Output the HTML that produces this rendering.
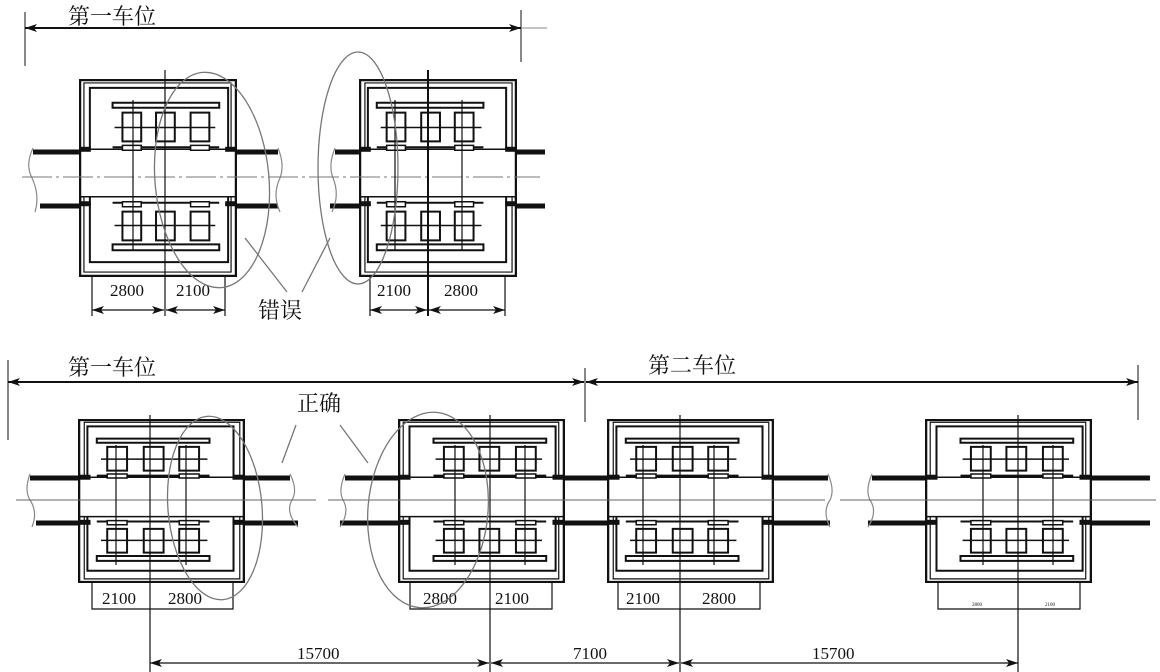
<!DOCTYPE html>
<html><head><meta charset="utf-8"><style>
html,body{margin:0;padding:0;background:#fff;}
svg{display:block}
text{font-family:"Liberation Serif","Noto Serif CJK SC",serif;fill:#111}
.c{font-family:"Liberation Serif","Noto Serif CJK SC","Noto Sans CJK SC",serif;font-size:22px}
</style></head><body>
<svg width="1160" height="672" viewBox="0 0 1160 672" xmlns="http://www.w3.org/2000/svg">
<defs>
<symbol id="m" viewBox="0 0 160 200" preserveAspectRatio="none">
 <g fill="none" stroke="#111">
  <rect x="1" y="1" width="158" height="198" stroke-width="2.5" fill="#fff" vector-effect="non-scaling-stroke"/>
  <rect x="5" y="4" width="149" height="191" stroke-width="1.2" vector-effect="non-scaling-stroke"/>
  <rect x="11" y="9" width="140" height="176" stroke-width="2" vector-effect="non-scaling-stroke"/>
  <rect x="0" y="71" width="160" height="48" fill="#fff" stroke="none"/>
  <line x1="0" y1="71" x2="160" y2="71" stroke-width="1.5" vector-effect="non-scaling-stroke"/>
  <line x1="0" y1="119" x2="160" y2="119" stroke-width="1.5" vector-effect="non-scaling-stroke"/>
  <line x1="0" y1="71" x2="12" y2="71" stroke-width="5" vector-effect="non-scaling-stroke"/>
  <line x1="148" y1="71" x2="160" y2="71" stroke-width="5" vector-effect="non-scaling-stroke"/>
  <line x1="0" y1="126" x2="12" y2="126" stroke-width="5" vector-effect="non-scaling-stroke"/>
  <line x1="148" y1="126" x2="160" y2="126" stroke-width="5" vector-effect="non-scaling-stroke"/>
  <line x1="34" y1="69" x2="142" y2="69" stroke-width="2" vector-effect="non-scaling-stroke"/>
  <line x1="34" y1="125" x2="142" y2="125" stroke-width="2" vector-effect="non-scaling-stroke"/>
  <line x1="1" y1="71" x2="1" y2="126" stroke-width="2.5" vector-effect="non-scaling-stroke"/>
  <line x1="159" y1="71" x2="159" y2="126" stroke-width="2.5" vector-effect="non-scaling-stroke"/>
  <rect x="34" y="24" width="108" height="5" stroke-width="2" vector-effect="non-scaling-stroke"/>
  <rect x="34" y="167" width="108" height="6" stroke-width="2" vector-effect="non-scaling-stroke"/>
  <line x1="36" y1="49" x2="138" y2="49" stroke-width="1.5" vector-effect="non-scaling-stroke"/>
  <line x1="36" y1="148" x2="138" y2="148" stroke-width="1.5" vector-effect="non-scaling-stroke"/>
  <rect x="44" y="34" width="19" height="29" stroke-width="2" vector-effect="non-scaling-stroke"/>
  <rect x="78" y="34" width="19" height="29" stroke-width="2" vector-effect="non-scaling-stroke"/>
  <rect x="113" y="34" width="19" height="29" stroke-width="2" vector-effect="non-scaling-stroke"/>
  <rect x="44" y="134" width="19" height="29" stroke-width="2" vector-effect="non-scaling-stroke"/>
  <rect x="78" y="134" width="19" height="29" stroke-width="2" vector-effect="non-scaling-stroke"/>
  <rect x="113" y="134" width="19" height="29" stroke-width="2" vector-effect="non-scaling-stroke"/>
  <rect x="44" y="67" width="19" height="5" stroke-width="1.5" fill="#fff" vector-effect="non-scaling-stroke"/>
  <rect x="113" y="67" width="19" height="5" stroke-width="1.5" fill="#fff" vector-effect="non-scaling-stroke"/>
  <rect x="44" y="124" width="19" height="5" stroke-width="1.5" fill="#fff" vector-effect="non-scaling-stroke"/>
  <rect x="113" y="124" width="19" height="5" stroke-width="1.5" fill="#fff" vector-effect="non-scaling-stroke"/>
 </g>
</symbol>
<marker id="a" viewBox="0 0 12 8" refX="12" refY="4" markerWidth="12" markerHeight="8" markerUnits="userSpaceOnUse" orient="auto-start-reverse"><path d="M0,0 L12,4 L0,8 L3,4 z" fill="#111"/></marker>
</defs>

<!-- TOP ROW rails -->
<g stroke="#111" fill="none">
 <line x1="33" y1="152" x2="278" y2="152" stroke-width="5"/>
 <line x1="40" y1="206" x2="278" y2="206" stroke-width="5"/>
 <line x1="335" y1="152" x2="545" y2="152" stroke-width="5"/>
 <line x1="330" y1="206" x2="545" y2="206" stroke-width="5"/>
 <path d="M33,148 Q25,165 32,178 Q40,195 35,212" stroke="#888" stroke-width="1.2"/>
 <path d="M278,148 Q285,165 280,178 Q272,195 280,212" stroke="#888" stroke-width="1.2"/>
 <path d="M335,148 Q328,165 333,178 Q340,195 332,212" stroke="#888" stroke-width="1.2"/>
</g>
<use href="#m" x="79" y="79" width="158" height="198"/>
<g transform="translate(517,0) scale(-1,1)"><use href="#m" x="0" y="79" width="158" height="198"/></g>
<line x1="22" y1="177" x2="540" y2="177" stroke-width="1" stroke="#777" stroke-dasharray="30,4,3,4"/>

<!-- top vertical lines -->
<g stroke="#111" stroke-width="1.2">
 <line x1="165" y1="70" x2="165" y2="316"/>
 <line x1="133" y1="100" x2="133" y2="250"/>
 <line x1="92" y1="277" x2="92" y2="316"/>
 <line x1="225" y1="277" x2="225" y2="316"/>
 <line x1="428" y1="70" x2="428" y2="316" stroke-width="2"/>
 <line x1="395" y1="100" x2="395" y2="250"/>
 <line x1="462" y1="100" x2="462" y2="250"/>
 <line x1="370" y1="277" x2="370" y2="316"/>
 <line x1="505" y1="277" x2="505" y2="316"/>
 <line x1="92" y1="310" x2="164" y2="310" marker-start="url(#a)" marker-end="url(#a)"/>
 <line x1="166" y1="310" x2="225" y2="310" marker-start="url(#a)" marker-end="url(#a)"/>
 <line x1="370" y1="310" x2="427" y2="310" marker-start="url(#a)" marker-end="url(#a)"/>
 <line x1="429" y1="310" x2="505" y2="310" marker-start="url(#a)" marker-end="url(#a)"/>
</g>
<g font-size="17"><text x="110" y="296">2800</text><text x="176" y="296">2100</text><text x="377" y="296">2100</text><text x="444" y="296">2800</text></g>

<!-- top dimension -->
<g stroke="#111">
 <line x1="25" y1="12" x2="25" y2="66" stroke-width="1"/>
 <line x1="521" y1="10" x2="521" y2="62" stroke-width="1"/>
 <line x1="521" y1="28" x2="547" y2="28" stroke-width="1" stroke="#888"/>
 <line x1="25" y1="28" x2="521" y2="28" stroke-width="2" marker-start="url(#a)" marker-end="url(#a)"/>
</g>
<text class="c" x="68" y="24">第一车位</text>

<!-- ellipses top -->
<g fill="none" stroke="#777" stroke-width="1.3">
 <ellipse cx="212" cy="180" rx="57" ry="108" transform="rotate(-5 212 180)"/>
 <ellipse cx="358" cy="168" rx="40" ry="116"/>
 <line x1="245" y1="238" x2="287" y2="292"/>
 <line x1="330" y1="238" x2="302" y2="292"/>
</g>
<text class="c" x="258" y="318">错误</text>

<!-- BOTTOM ROW -->
<g stroke="#111" fill="none">
 <line x1="30" y1="478" x2="290" y2="478" stroke-width="5"/>
 <line x1="36" y1="523" x2="298" y2="523" stroke-width="5"/>
 <line x1="345" y1="478" x2="828" y2="478" stroke-width="5"/>
 <line x1="340" y1="523" x2="830" y2="523" stroke-width="5"/>
 <line x1="872" y1="478" x2="1150" y2="478" stroke-width="5"/>
 <line x1="868" y1="523" x2="1150" y2="523" stroke-width="5"/>
 <path d="M30,474 Q24,490 30,500 Q38,512 32,527" stroke="#888" stroke-width="1.2"/>
 <path d="M290,474 Q298,490 292,500 Q285,512 298,527" stroke="#888" stroke-width="1.2"/>
 <path d="M345,474 Q338,490 343,500 Q350,512 340,527" stroke="#888" stroke-width="1.2"/>
 <path d="M828,474 Q835,490 830,500 Q822,512 830,527" stroke="#888" stroke-width="1.2"/>
 <path d="M872,474 Q865,490 870,500 Q878,512 868,527" stroke="#888" stroke-width="1.2"/>
</g>
<g transform="translate(245,0) scale(-1,1)"><use href="#m" x="0" y="419" width="167" height="164"/></g>
<use href="#m" x="398" y="419" width="167" height="164"/>
<g transform="translate(774,0) scale(-1,1)"><use href="#m" x="0" y="419" width="167" height="164"/></g>
<use href="#m" x="925" y="419" width="167" height="164"/>
<g stroke="#666" stroke-width="1">
 <line x1="16" y1="500" x2="316" y2="500"/>
 <line x1="328" y1="500" x2="825" y2="500"/>
 <line x1="840" y1="500" x2="1156" y2="500"/>
</g>

<g stroke="#111" stroke-width="1.2">
 <line x1="150" y1="415" x2="150" y2="672"/>
 <line x1="490" y1="415" x2="490" y2="672"/>
 <line x1="680" y1="415" x2="680" y2="672"/>
 <line x1="1018" y1="415" x2="1018" y2="672"/>
 <line x1="116" y1="445" x2="116" y2="565"/>
 <line x1="186" y1="445" x2="186" y2="565"/>
 <line x1="455" y1="445" x2="455" y2="565"/>
 <line x1="525" y1="445" x2="525" y2="565"/>
 <line x1="643" y1="445" x2="643" y2="565"/>
 <line x1="714" y1="445" x2="714" y2="565"/>
 <line x1="983" y1="445" x2="983" y2="565"/>
 <line x1="1053" y1="445" x2="1053" y2="565"/>
 <path d="M92,583 V609 H233 V583" fill="none"/>
 <path d="M410,583 V609 H552 V583" fill="none"/>
 <path d="M618,583 V609 H760 V583" fill="none"/>
 <path d="M938,583 V609 H1080 V583" fill="none"/>
 <line x1="150" y1="663" x2="489" y2="663" marker-start="url(#a)" marker-end="url(#a)"/>
 <line x1="491" y1="663" x2="679" y2="663" marker-start="url(#a)" marker-end="url(#a)"/>
 <line x1="681" y1="663" x2="1018" y2="663" marker-start="url(#a)" marker-end="url(#a)"/>
</g>
<g font-size="17">
 <text x="102" y="604">2100</text><text x="168" y="604">2800</text>
 <text x="423" y="604">2800</text><text x="495" y="604">2100</text>
 <text x="626" y="604">2100</text><text x="702" y="604">2800</text>
 <text x="297" y="659">15700</text><text x="573" y="659">7100</text><text x="812" y="659">15700</text>
 <text x="972" y="606" font-size="5">2800</text><text x="1045" y="606" font-size="5">2100</text>
</g>

<!-- bottom dimension -->
<g stroke="#111">
 <line x1="8" y1="360" x2="8" y2="440" stroke-width="1"/>
 <line x1="585" y1="368" x2="585" y2="422" stroke-width="1"/>
 <line x1="1138" y1="365" x2="1138" y2="420" stroke-width="1"/>
 <line x1="8" y1="382" x2="584" y2="382" stroke-width="2" marker-start="url(#a)" marker-end="url(#a)"/>
 <line x1="586" y1="382" x2="1138" y2="382" stroke-width="2" marker-start="url(#a)" marker-end="url(#a)"/>
</g>
<text class="c" x="68" y="375">第一车位</text>
<text class="c" x="648" y="373">第二车位</text>

<g fill="none" stroke="#777" stroke-width="1.3">
 <ellipse cx="215" cy="508" rx="47" ry="92" transform="rotate(-5 215 508)"/>
 <ellipse cx="428" cy="510" rx="60" ry="98" transform="rotate(5 428 510)"/>
 <line x1="296" y1="425" x2="282" y2="463"/>
 <line x1="340" y1="425" x2="368" y2="463"/>
</g>
<text class="c" x="297" y="411">正确</text>
</svg>
</body></html>
